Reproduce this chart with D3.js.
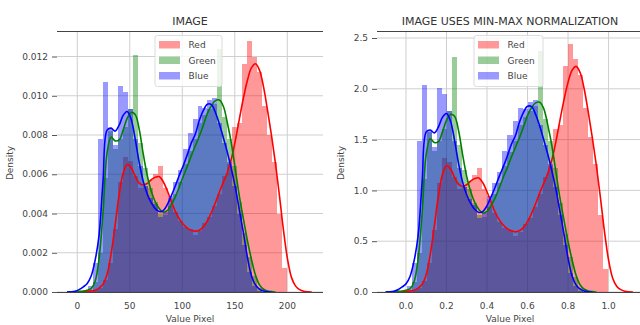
<!DOCTYPE html>
<html><head><meta charset="utf-8">
<script src="https://cdn.jsdelivr.net/npm/d3@7"></script>
<style>body{margin:0;background:#fff}svg{display:block}text{font-family:"DejaVu Sans",sans-serif}</style>
</head><body>
<svg id="c" width="640" height="325"></svg>
<script>
// ---------- data ----------
const channels = ["Red", "Green", "Blue"];

// Left panel: raw pixel values
const titleRaw = "IMAGE";
const binEdgesRaw = [10,14.75,19.5,24.25,29,33.75,38.5,43.25,48,52.75,57.5,62.25,67,71.75,76.5,81.25,86,90.75,95.5,100.25,105,109.75,114.5,119.25,124,128.75,133.5,138.25,143,147.75,152.5,157.25,162,166.75,171.5,176.25,181,185.75,190.5,195.25,200];
const histRedRaw = [0,0.0001,0.0002,0.0006,0.0015,0.0032,0.0056,0.0069,0.0067,0.0059,0.0053,0.0054,0.0057,0.006,0.0064,0.0053,0.0048,0.0041,0.0036,0.0033,0.0032,0.0029,0.0031,0.0035,0.0038,0.0044,0.005,0.0059,0.0065,0.0084,0.0086,0.0116,0.0128,0.012,0.0112,0.0095,0.008,0.0066,0.004,0.0012];
const histGreenRaw = [0.0001,0.0005,0.002,0.0058,0.0082,0.0073,0.0078,0.0084,0.0093,0.0121,0.0076,0.0063,0.0053,0.0046,0.004,0.0039,0.0044,0.005,0.0056,0.0065,0.0072,0.0078,0.0086,0.009,0.0093,0.0096,0.0124,0.0089,0.0078,0.0064,0.0046,0.003,0.0018,0.0008,0.0002,0,0,0,0,0];
const histBlueRaw = [0.0003,0.0015,0.0078,0.0107,0.0083,0.0075,0.0105,0.0102,0.0093,0.0078,0.0064,0.0054,0.0048,0.0045,0.0038,0.0041,0.0049,0.0056,0.0062,0.0073,0.0081,0.0088,0.0095,0.0094,0.0098,0.0099,0.0086,0.0076,0.0066,0.0054,0.004,0.0024,0.001,0.0003,0.00005,0,0,0,0,0];
const kdeXRaw = [-9.8,-5.98,-2.16,1.66,5.48,9.3,13.12,16.94,20.76,24.58,28.4,32.22,36.04,39.86,43.68,47.5,51.32,55.14,58.96,62.78,66.6,70.42,74.24,78.06,81.88,85.7,89.52,93.34,97.16,100.98,104.8,108.62,112.44,116.26,120.08,123.9,127.72,131.54,135.36,139.18,143,146.82,150.64,154.46,158.28,162.1,165.92,169.74,173.56,177.38,181.2,185.02,188.84,192.66,196.48,200.3,204.12,207.94,211.76,215.58,219.4,223.22];
const kdeRedRaw = [0,0,0,0,0.00001,0.00002,0.00005,0.00009,0.0002,0.0004,0.0009,0.00195,0.0034,0.00495,0.00605,0.0065,0.00635,0.0059,0.00555,0.00545,0.00553,0.00572,0.00585,0.00588,0.00562,0.00517,0.00463,0.00412,0.00373,0.00345,0.00326,0.00315,0.0031,0.00315,0.00332,0.00363,0.00405,0.00455,0.0051,0.0056,0.0061,0.0068,0.00775,0.00885,0.0099,0.0108,0.01143,0.01163,0.0113,0.01045,0.00925,0.00795,0.0065,0.00485,0.0031,0.00165,0.00072,0.0003,0.00012,0.00004,0.00001,0];
const kdeGreenRaw = [0,0,0.00001,0.00003,0.00005,0.00009,0.00017,0.00053,0.0017,0.0041,0.0071,0.0079,0.0077,0.00775,0.00825,0.00885,0.00915,0.00905,0.0083,0.00705,0.00595,0.00515,0.0046,0.00425,0.00407,0.00415,0.00445,0.00485,0.00535,0.0059,0.0064,0.00695,0.00745,0.00795,0.0085,0.0091,0.0095,0.00975,0.00978,0.00945,0.0086,0.00755,0.0062,0.00485,0.0037,0.0026,0.00165,0.00085,0.00036,0.00014,0.00005,0.00002,0];
const kdeBlueRaw = [0,0.00001,0.00004,0.00012,0.00025,0.00042,0.0008,0.0016,0.0029,0.0057,0.00825,0.00835,0.0082,0.0085,0.009,0.0092,0.0088,0.0078,0.0066,0.00565,0.005,0.00455,0.00425,0.0041,0.00415,0.00445,0.0049,0.0054,0.00595,0.00645,0.007,0.0076,0.00805,0.00875,0.00925,0.00957,0.00955,0.00915,0.00855,0.00785,0.0071,0.00625,0.0053,0.00415,0.003,0.00175,0.00082,0.00036,0.00015,0.00005,0.00001,0];
const xTicksRaw = [0, 50, 100, 150, 200];
const yTicksRaw = [0, 0.002, 0.004, 0.006, 0.008, 0.010, 0.012];

// Right panel: min-max normalised values
const titleNorm = "IMAGE USES MIN-MAX NORMALIZATION";
const binEdgesNorm = [0.004,0.029,0.053,0.078,0.103,0.128,0.153,0.178,0.203,0.228,0.252,0.277,0.302,0.327,0.352,0.377,0.402,0.426,0.451,0.476,0.501,0.526,0.551,0.576,0.601,0.625,0.65,0.675,0.7,0.725,0.75,0.775,0.8,0.824,0.849,0.874,0.899,0.924,0.949,0.974,0.998];
const histRedNorm = [0,0.02,0.04,0.11,0.29,0.61,1.07,1.32,1.28,1.13,1.01,1.03,1.09,1.15,1.22,1.01,0.92,0.78,0.69,0.63,0.61,0.55,0.59,0.67,0.73,0.84,0.96,1.13,1.24,1.6,1.64,2.22,2.44,2.29,2.14,1.81,1.53,1.26,0.76,0.23];
const histGreenNorm = [0.02,0.1,0.38,1.11,1.57,1.39,1.49,1.6,1.78,2.31,1.45,1.2,1.01,0.88,0.76,0.74,0.84,0.96,1.07,1.24,1.38,1.49,1.64,1.72,1.78,1.83,2.37,1.7,1.49,1.22,0.88,0.57,0.34,0.15,0.04,0,0,0,0,0];
const histBlueNorm = [0.06,0.29,1.49,2.04,1.59,1.43,2.01,1.95,1.78,1.49,1.22,1.03,0.92,0.86,0.73,0.78,0.94,1.07,1.18,1.39,1.55,1.68,1.81,1.8,1.87,1.89,1.64,1.45,1.26,1.03,0.76,0.46,0.19,0.06,0.01,0,0,0,0,0];
const kdeXNorm = [-0.1,-0.08,-0.06,-0.04,-0.02,0,0.02,0.04,0.06,0.08,0.1,0.12,0.14,0.16,0.18,0.2,0.22,0.24,0.26,0.28,0.3,0.32,0.34,0.36,0.38,0.4,0.42,0.44,0.46,0.48,0.5,0.52,0.54,0.56,0.58,0.6,0.62,0.64,0.66,0.68,0.7,0.72,0.74,0.76,0.78,0.8,0.82,0.84,0.86,0.88,0.9,0.92,0.94,0.96,0.98,1,1.02,1.04,1.06,1.08,1.1,1.12];
const kdeRedNorm = [0,0,0,0,0.002,0.004,0.01,0.017,0.038,0.076,0.172,0.372,0.649,0.945,1.156,1.242,1.213,1.127,1.06,1.041,1.056,1.093,1.117,1.123,1.073,0.987,0.884,0.787,0.712,0.659,0.623,0.602,0.592,0.602,0.634,0.693,0.774,0.869,0.974,1.07,1.165,1.299,1.48,1.69,1.891,2.063,2.183,2.221,2.158,1.996,1.767,1.518,1.242,0.926,0.592,0.315,0.138,0.057,0.023,0.008,0.002,0];
const kdeGreenNorm = [0,0,0.002,0.006,0.01,0.017,0.032,0.101,0.325,0.783,1.356,1.509,1.471,1.48,1.576,1.69,1.748,1.729,1.585,1.347,1.136,0.984,0.879,0.812,0.777,0.793,0.85,0.926,1.022,1.127,1.222,1.327,1.423,1.518,1.624,1.738,1.815,1.862,1.868,1.805,1.643,1.442,1.184,0.926,0.707,0.497,0.315,0.162,0.069,0.027,0.01,0.004,0];
const kdeBlueNorm = [0,0.002,0.008,0.023,0.048,0.08,0.153,0.306,0.554,1.089,1.576,1.595,1.566,1.624,1.719,1.757,1.681,1.49,1.261,1.079,0.955,0.869,0.812,0.783,0.793,0.85,0.936,1.031,1.136,1.232,1.337,1.452,1.538,1.671,1.767,1.828,1.824,1.748,1.633,1.499,1.356,1.194,1.012,0.793,0.573,0.334,0.157,0.069,0.029,0.01,0.002,0];
const xTicksNorm = [0, 0.2, 0.4, 0.6, 0.8, 1.0];
const yTicksNorm = [0, 0.5, 1.0, 1.5, 2.0, 2.5];

const xLabel = "Value Pixel";
const yLabel = "Density";

// ---------- drawing ----------
const colors = {Red: "red", Green: "green", Blue: "blue"};
const svg = d3.select("#c");

function panel(o) {
  const x = d3.scaleLinear().domain(o.xDomain).range([o.left, o.right]);
  const y = d3.scaleLinear().domain(o.yDomain).range([o.bottom, o.top]);
  const g = svg.append("g");
  const clipId = "clip" + o.left;
  svg.append("clipPath").attr("id", clipId).append("rect")
    .attr("x", o.left).attr("y", o.top).attr("width", o.right - o.left).attr("height", o.bottom - o.top);

  // grid
  g.append("g").selectAll("line").data(o.xTicks).join("line")
    .attr("x1", d => x(d)).attr("x2", d => x(d)).attr("y1", o.top).attr("y2", o.bottom)
    .attr("stroke", "#cfcfcf").attr("stroke-width", 1);
  g.append("g").selectAll("line").data(o.yTicks).join("line")
    .attr("x1", o.left).attr("x2", o.right).attr("y1", d => y(d)).attr("y2", d => y(d))
    .attr("stroke", "#cfcfcf").attr("stroke-width", 1);

  const plot = g.append("g").attr("clip-path", `url(#${clipId})`);
  const line = d3.line().x(d => x(d[0])).y(d => y(d[1])).curve(d3.curveCatmullRom.alpha(0.5));

  channels.forEach((c, ci) => {
    const h = o.hist[ci];
    const bars = h.map((v, i) => ({x0: o.edges[i], x1: o.edges[i + 1], v})).filter(b => b.v > 0);
    plot.append("g").selectAll("rect").data(bars).join("rect")
      .attr("x", b => Math.round(x(b.x0)))
      .attr("width", b => Math.round(x(b.x1)) - Math.round(x(b.x0)))
      .attr("y", b => y(b.v))
      .attr("height", b => y(0) - y(b.v))
      .attr("fill", colors[c]).attr("fill-opacity", 0.4)
      .attr("shape-rendering", "crispEdges");
  });
  channels.forEach((c, ci) => {
    const pts = o.kde[ci].map((v, i) => [o.kdeX[i], v]);
    plot.append("path").datum(pts).attr("d", line)
      .attr("fill", "none").attr("stroke", colors[c]).attr("stroke-width", 1.6);
  });

  // spines (top & bottom)
  g.append("line").attr("x1", o.left).attr("x2", o.right).attr("y1", o.top + 0.5).attr("y2", o.top + 0.5)
    .attr("stroke", "#444").attr("stroke-width", 1.1);
  g.append("line").attr("x1", o.left).attr("x2", o.right).attr("y1", o.bottom + 0.5).attr("y2", o.bottom + 0.5)
    .attr("stroke", "#444").attr("stroke-width", 1.1);

  // y axis ticks
  const ya = g.append("g");
  ya.selectAll("line").data(o.yTicks).join("line")
    .attr("x1", o.left - 5).attr("x2", o.left).attr("y1", d => y(d) + 0.5).attr("y2", d => y(d) + 0.5)
    .attr("stroke", "#555").attr("stroke-width", 1);
  ya.selectAll("text").data(o.yTicks).join("text")
    .attr("x", o.left - 9).attr("y", d => y(d)).attr("dy", "0.35em")
    .attr("text-anchor", "end").attr("font-size", 9).attr("fill", "#444")
    .text(o.yFmt);
  // x axis labels
  g.append("g").selectAll("text").data(o.xTicks).join("text")
    .attr("x", d => x(d)).attr("y", o.bottom + 16.5)
    .attr("text-anchor", "middle").attr("font-size", 9).attr("fill", "#444")
    .text(o.xFmt);
  g.append("text").attr("x", (o.left + o.right) / 2).attr("y", o.bottom + 29.5)
    .attr("text-anchor", "middle").attr("font-size", 9).attr("fill", "#444").text(xLabel);
  g.append("text").attr("transform", `translate(${o.yLabelX},163) rotate(-90)`)
    .attr("text-anchor", "middle").attr("font-size", 9).attr("fill", "#444").text(yLabel);
  g.append("text").attr("x", (o.left + o.right) / 2).attr("y", 24.5)
    .attr("text-anchor", "middle").attr("font-size", 11).attr("fill", "#333").text(o.title);

  // legend
  const lg = g.append("g").attr("transform", `translate(${o.legendX},35)`);
  lg.append("rect").attr("x", 0.5).attr("y", 0.5).attr("width", o.legendW).attr("height", 51).attr("rx", 2.5)
    .attr("fill", "#fff").attr("fill-opacity", 0.8).attr("stroke", "#dcdcdc");
  channels.forEach((c, i) => {
    lg.append("rect").attr("x", 4.5).attr("y", 6 + i * 15.5).attr("width", 21).attr("height", 7.5)
      .attr("fill", colors[c]).attr("fill-opacity", 0.4);
    lg.append("text").attr("x", 34).attr("y", 10 + i * 15.5).attr("dy", "0.35em")
      .attr("font-size", 9).attr("fill", "#444").text(c);
  });
}

panel({
  left: 57, right: 323, top: 31, bottom: 292,
  xDomain: [-19.3, 234], yDomain: [0, 0.0133],
  xTicks: xTicksRaw, yTicks: yTicksRaw,
  xFmt: d3.format("d"), yFmt: d3.format(".3f"),
  edges: binEdgesRaw, hist: [histRedRaw, histGreenRaw, histBlueRaw],
  kdeX: kdeXRaw, kde: [kdeRedRaw, kdeGreenRaw, kdeBlueRaw],
  title: titleRaw, yLabelX: 13, legendX: 154.5, legendW: 67
});
panel({
  left: 377, right: 643, top: 31, bottom: 292,
  xDomain: [-0.143, 1.17], yDomain: [0, 2.569],
  xTicks: xTicksNorm, yTicks: yTicksNorm,
  xFmt: d3.format(".1f"), yFmt: d3.format(".1f"),
  edges: binEdgesNorm, hist: [histRedNorm, histGreenNorm, histBlueNorm],
  kdeX: kdeXNorm, kde: [kdeRedNorm, kdeGreenNorm, kdeBlueNorm],
  title: titleNorm, yLabelX: 344, legendX: 473.5, legendW: 69
});
</script>
</body></html>
